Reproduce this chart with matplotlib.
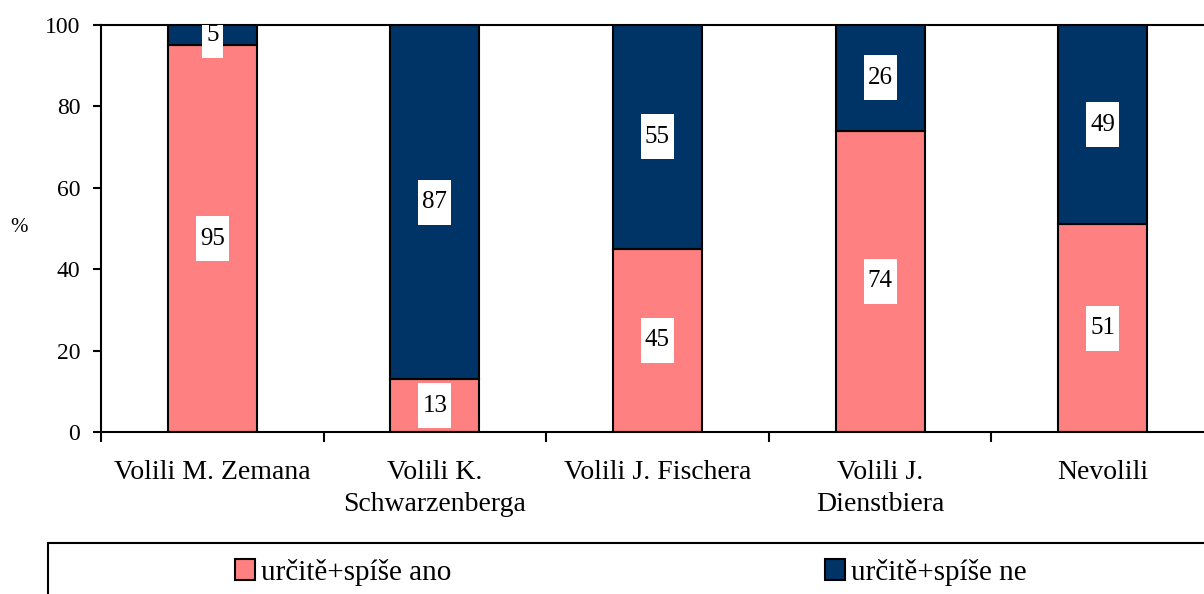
import numpy as np
import matplotlib
matplotlib.use('Agg')
import matplotlib.pyplot as plt
from matplotlib.patches import Rectangle, Patch
from matplotlib.transforms import ScaledTranslation

# --- Dados ---
categories = ['Volili M. Zemana', 'Volili K.\nSchwarzenberga', 'Volili J. Fischera',
              'Volili J.\nDienstbiera', 'Nevolili']
ano = [95, 13, 45, 74, 51]
ne = [5, 87, 55, 26, 49]
series_names = ['určitě+spíše ano', 'určitě+spíše ne']

PINK = '#FF8080'
NAVY = '#003366'
FS = 17

plt.rcParams['font.family'] = ['Liberation Serif', 'DejaVu Serif']

fig = plt.figure(figsize=(12.04, 5.94), dpi=100)
ax = fig.add_axes([101/1204, 1 - 432/594, 5*222.6/1204, (432-25)/594])

x = np.arange(len(categories))
ax.bar(x, ano, width=0.4, color=PINK, edgecolor='black', linewidth=1.5)
ax.bar(x, ne, width=0.4, bottom=ano, color=NAVY, edgecolor='black', linewidth=1.5)

# popisky v bílých rámečcích
def label(xc, yc, val):
    w = (8 + 12.5*len(str(val))) / 100
    h = 0.45
    trans = fig.dpi_scale_trans + ScaledTranslation(xc, yc, ax.transData)
    ax.add_artist(Rectangle((-w/2, -h/2), w, h, transform=trans,
                            facecolor='white', edgecolor='none', zorder=3))
    ax.text(xc, yc, str(val), ha='center', va='center', fontsize=18, zorder=4,
            clip_on=True)

for i in range(len(categories)):
    label(x[i], ano[i]/2, ano[i])
    label(x[i], ano[i] + ne[i]/2, ne[i])

ax.set_xlim(-0.5, len(categories) - 0.5)
ax.set_ylim(0, 100)
ax.set_yticks(range(0, 101, 20))
ax.set_xticks(np.arange(-0.5, len(categories), 1.0))
ax.set_xticklabels([])
ax.set_xticks(x, minor=True)
ax.set_xticklabels(categories, minor=True, fontsize=20, linespacing=1.4)
ax.tick_params(axis='x', which='major', direction='out', length=7, width=1.5)
ax.tick_params(axis='x', which='minor', length=0, pad=20)
ax.tick_params(axis='y', direction='out', length=6, width=1.5, labelsize=FS, pad=9)
for s in ax.spines.values():
    s.set_linewidth(1.5)

fig.text(19/1204, 1 - 228/594, '%', ha='center', va='center', fontsize=15)

# legenda
fig.add_artist(Rectangle((48/1204, -0.1), 1.0, 0.1 + 1 - 543/594,
                         transform=fig.transFigure, fill=False,
                         edgecolor='black', linewidth=1.5))
for col, name, xpos in [(PINK, series_names[0], 235), (NAVY, series_names[1], 825)]:
    fig.legend(handles=[Patch(facecolor=col, edgecolor='black', linewidth=1.5, label=name)],
               loc='center left', bbox_to_anchor=(xpos/1204, 1 - 572/594),
               frameon=False, fontsize=21, borderpad=0, borderaxespad=0,
               handlelength=0.7, handleheight=0.7, handletextpad=0.2)

fig.savefig('out.png', dpi=100)
